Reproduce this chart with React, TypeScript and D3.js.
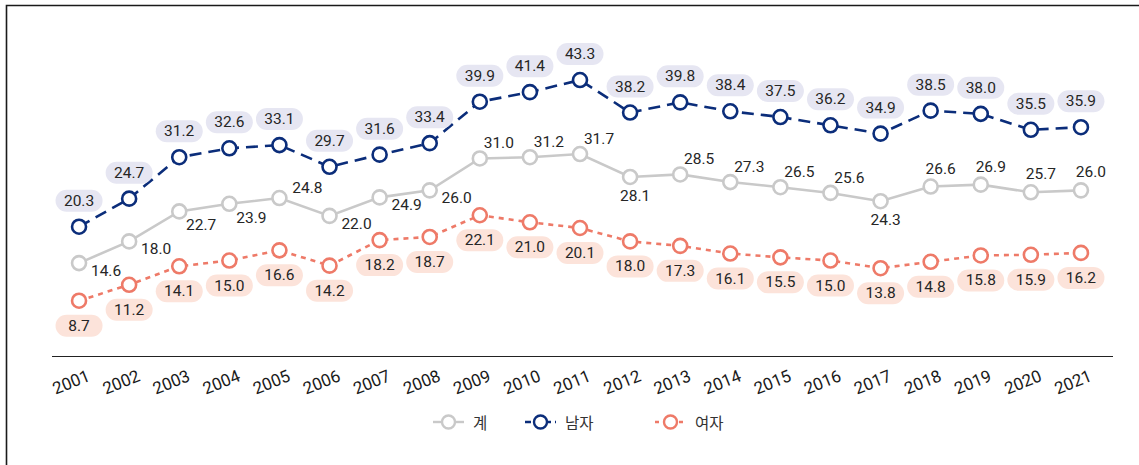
import React from "react";
import * as d3 from "d3";

const years = ["2001","2002","2003","2004","2005","2006","2007","2008","2009","2010","2011","2012","2013","2014","2015","2016","2017","2018","2019","2020","2021"];
const totalValues = [14.6,18.0,22.7,23.9,24.8,22.0,24.9,26.0,31.0,31.2,31.7,28.1,28.5,27.3,26.5,25.6,24.3,26.6,26.9,25.7,26.0];
const maleValues = [20.3,24.7,31.2,32.6,33.1,29.7,31.6,33.4,39.9,41.4,43.3,38.2,39.8,38.4,37.5,36.2,34.9,38.5,38.0,35.5,35.9];
const femaleValues = [8.7,11.2,14.1,15.0,16.6,14.2,18.2,18.7,22.1,21.0,20.1,18.0,17.3,16.1,15.5,15.0,13.8,14.8,15.8,15.9,16.2];
const seriesNames = ["계", "남자", "여자"];

// where each label of the total series sits relative to its marker
const totalLabelPlacement = ["right","right","belowRight","belowRight","upRight","right","right","right","aboveRight","aboveRight","aboveRight","below","aboveRight","aboveRight","aboveRight","aboveRight","below","above","above","above","above"];

const W = 1139;
const H = 465;
const NUM_FONT = "Roboto, 'Noto Sans', sans-serif";
const KR_FONT = "'Noto Sans CJK KR', 'Noto Sans', sans-serif";

const placementOffset: Record<string, [number, number]> = {
  right: [27, 8],
  belowRight: [22, 14],
  upRight: [28, -10],
  aboveRight: [19, -15],
  below: [5, 19],
  above: [10, -18],
};

const colors = { total: "#c9c9c9", male: "#0b2d7a", female: "#ee7a68" };
const pill = { male: "#e6e6f2", female: "#fce3da" };

export default function App() {
  const x = d3.scaleBand<string>().domain(years).range([54, 1106]);
  const y = d3.scaleLinear().domain([0, 50]).range([356.2, 37.3]);
  const cx = (yr: string) => (x(yr) as number) + x.bandwidth() / 2;

  const line = d3
    .line<number>()
    .x((_, i) => cx(years[i]))
    .y((d) => y(d));

  const series = [
    { key: "total", values: totalValues, color: colors.total, dash: undefined as string | undefined },
    { key: "male", values: maleValues, color: colors.male, dash: "12 7" },
    { key: "female", values: femaleValues, color: colors.female, dash: "5 5" },
  ];

  const pillLabel = (v: number, px: number, py: number, fill: string, k: string) => {
    const w = 47;
    const h = 22;
    return (
      <g key={k}>
        <rect x={px - w / 2} y={py - h / 2} width={w} height={h} rx={11} fill={fill} />
        <text x={px} y={py} textAnchor="middle" dominantBaseline="central" fontSize={15.5} fill="#262626" fontFamily={NUM_FONT}>
          {v.toFixed(1)}
        </text>
      </g>
    );
  };

  const legendItems = [
    { name: seriesNames[0], color: colors.total, dash: undefined as string | undefined, x: 433 },
    { name: seriesNames[1], color: colors.male, dash: "6 4", x: 525 },
    { name: seriesNames[2], color: colors.female, dash: "4 4", x: 655 },
  ];

  return (
    <div style={{ position: "absolute", left: 0, top: 0 }}>
      <svg width={W} height={H} style={{ display: "block", background: "#fff" }}>
        <path d={`M6.5,${H} V5.5 H${W}`} fill="none" stroke="#1a1a1a" strokeWidth={1.6} />

        {/* x axis */}
        <line x1={52} x2={1113} y1={356.5} y2={356.5} stroke="#222" strokeWidth={1.2} />
        {years.map((yr) => (
          <text
            key={yr}
            transform={`translate(${cx(yr) - 8},${382}) rotate(-22)`}
            textAnchor="middle"
            dominantBaseline="central"
            fontSize={17}
            fill="#1a1a1a"
            fontFamily={NUM_FONT}
          >
            {yr}
          </text>
        ))}

        {/* lines */}
        {series.map((s) => (
          <path
            key={s.key}
            d={line(s.values) || ""}
            fill="none"
            stroke={s.color}
            strokeWidth={2.6}
            strokeDasharray={s.dash}
          />
        ))}

        {/* markers */}
        {series.map((s) =>
          s.values.map((v, i) => (
            <circle
              key={s.key + i}
              cx={cx(years[i])}
              cy={y(v)}
              r={7}
              fill="#fff"
              stroke={s.color}
              strokeWidth={2.6}
            />
          ))
        )}

        {/* labels */}
        {totalValues.map((v, i) => {
          const [dx, dy] = placementOffset[totalLabelPlacement[i]];
          return (
            <text
              key={"t" + i}
              x={cx(years[i]) + dx}
              y={y(v) + dy}
              textAnchor="middle"
              dominantBaseline="central"
              fontSize={15.5}
              fill="#262626"
              fontFamily={NUM_FONT}
            >
              {v.toFixed(1)}
            </text>
          );
        })}
        {maleValues.map((v, i) => pillLabel(v, cx(years[i]), y(v) - 26, pill.male, "m" + i))}
        {femaleValues.map((v, i) => pillLabel(v, cx(years[i]), y(v) + 25, pill.female, "f" + i))}

        {/* legend */}
        {legendItems.map((it) => (
          <g key={it.name}>
            <line x1={it.x} x2={it.x + 31} y1={422} y2={422} stroke={it.color} strokeWidth={2.4} strokeDasharray={it.dash} />
            <circle cx={it.x + 15.5} cy={422} r={6.5} fill="#fff" stroke={it.color} strokeWidth={2.4} />
            <text x={it.x + 40} y={422} dominantBaseline="central" fontSize={15.5} fill="#333" fontFamily={KR_FONT}>
              {it.name}
            </text>
          </g>
        ))}
      </svg>
    </div>
  );
}
